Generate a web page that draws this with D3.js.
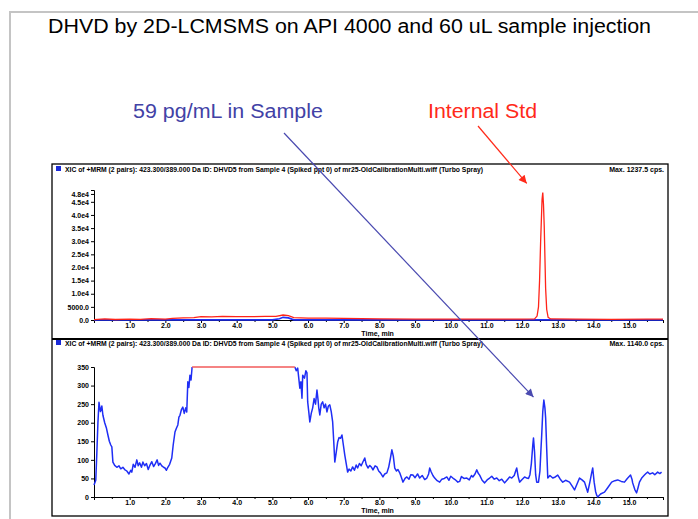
<!DOCTYPE html>
<html>
<head>
<meta charset="utf-8">
<script src="https://cdn.jsdelivr.net/npm/d3@7"></script>
<style>
  body { margin: 0; background: #fff; }
  svg { display: block; }
  .axis text { font-family: "Liberation Sans Narrow", "Liberation Sans", Arial, sans-serif; font-size: 7px; font-weight: bold; fill: #000; }
  .axis path, .axis line { stroke: #000; stroke-width: 1; }
  .hdr { font-family: "Liberation Sans Narrow", "Liberation Sans", Arial, sans-serif; font-size: 7px; font-weight: bold; }
</style>
</head>
<body>
<svg id="slide" width="698" height="519"></svg>
<script>
// ---- data ----
const timeTicks = [1, 2, 3, 4, 5, 6, 7, 8, 9, 10, 11, 12, 13, 14, 15];
const minorTicks = [0.5, 1.5, 2.5, 3.5, 4.5, 5.5, 6.5, 7.5, 8.5, 9.5, 10.5, 11.5, 12.5, 13.5, 14.5, 15.5];
const topYTicks = [0, 5000, 10000, 15000, 20000, 25000, 30000, 35000, 40000, 45000, 48000];
const topYLabels = ["0.0", "5000.0", "1.0e4", "1.5e4", "2.0e4", "2.5e4", "3.0e4", "3.5e4", "4.0e4", "4.5e4", "4.8e4"];
const botYTicks = [0, 50, 100, 150, 200, 250, 300, 350];

// top panel, internal standard (red), [time min, cps]
const internalStd = [
  [0, 150], [0.3, 400], [0.6, 200], [1.0, 350], [1.3, 250], [1.6, 500], [2.0, 300], [2.2, 600],
  [2.5, 800], [2.8, 900], [3.0, 1300], [3.3, 1200], [3.6, 1400], [4.0, 1300], [4.4, 1250],
  [4.8, 1350], [5.1, 1400], [5.3, 1900], [5.45, 1700], [5.6, 900], [6.0, 750], [6.5, 700],
  [7.0, 650], [7.5, 500], [8.0, 400], [9.0, 350], [10.0, 300], [11.0, 350], [12.0, 300],
  [12.35, 400], [12.42, 1500], [12.46, 5000], [12.49, 15000], [12.52, 30000], [12.54, 38000],
  [12.56, 46000], [12.58, 48500], [12.60, 44000], [12.62, 36000], [12.64, 24000], [12.66, 12000],
  [12.69, 4000], [12.73, 1000], [12.8, 400], [13.5, 300], [14.5, 250], [15.5, 350], [15.95, 300]
];
// top panel, analyte (blue)
const analyteTop = [
  [0, 60], [5.0, 60], [5.2, 500], [5.3, 1000], [5.45, 800], [5.6, 60], [15.95, 60]
];
// bottom panel, analyte trace (blue)
const sampleTrace = [
  [0.00, 32], [0.05, 45], [0.08, 120], [0.11, 200], [0.14, 255], [0.18, 230], [0.22, 245], [0.25, 220],
  [0.30, 200], [0.35, 185], [0.39, 167], [0.43, 150], [0.47, 140], [0.50, 135], [0.53, 94], [0.58, 85],
  [0.64, 80], [0.70, 84], [0.75, 76], [0.81, 80], [0.86, 74], [0.92, 70], [0.98, 62], [1.03, 72],
  [1.06, 67], [1.10, 88], [1.15, 80], [1.20, 100], [1.24, 84], [1.28, 92], [1.33, 80], [1.37, 94],
  [1.42, 84], [1.47, 90], [1.52, 74], [1.57, 86], [1.62, 95], [1.67, 82], [1.72, 90], [1.77, 100],
  [1.81, 85], [1.85, 91], [1.90, 84], [1.95, 80], [1.99, 78], [2.03, 72], [2.07, 80], [2.12, 88],
  [2.18, 105], [2.22, 140], [2.27, 175], [2.31, 185], [2.35, 194], [2.38, 215], [2.41, 220], [2.45, 235],
  [2.49, 242], [2.53, 225], [2.57, 240], [2.60, 229], [2.63, 310], [2.66, 295], [2.69, 328], [2.72, 315],
  [2.75, 350], [5.63, 350], [5.67, 340], [5.71, 347], [5.74, 320], [5.77, 293], [5.80, 310], [5.83, 266],
  [5.85, 328], [5.90, 320], [5.94, 340], [5.97, 334], [5.99, 256], [6.02, 230], [6.05, 202], [6.09, 225],
  [6.13, 240], [6.17, 265], [6.21, 250], [6.25, 288], [6.28, 262], [6.30, 240], [6.33, 221], [6.37, 250],
  [6.41, 256], [6.45, 240], [6.49, 250], [6.53, 229], [6.57, 245], [6.61, 248], [6.65, 230], [6.69, 202],
  [6.72, 150], [6.75, 94], [6.79, 120], [6.83, 148], [6.87, 160], [6.91, 158], [6.95, 167], [6.99, 140],
  [7.03, 113], [7.07, 90], [7.11, 67], [7.15, 75], [7.20, 70], [7.25, 81], [7.30, 72], [7.35, 86],
  [7.39, 78], [7.44, 90], [7.49, 84], [7.54, 95], [7.59, 105], [7.63, 88], [7.68, 78], [7.73, 85],
  [7.78, 80], [7.82, 73], [7.88, 84], [7.93, 81], [7.98, 70], [8.03, 65], [8.10, 54], [8.15, 62],
  [8.21, 65], [8.26, 80], [8.31, 105], [8.35, 127], [8.39, 110], [8.43, 78], [8.48, 70], [8.52, 74],
  [8.57, 65], [8.62, 52], [8.66, 40], [8.72, 50], [8.77, 54], [8.83, 48], [8.88, 60], [8.94, 59],
  [9.00, 52], [9.07, 62], [9.13, 51], [9.20, 58], [9.27, 47], [9.33, 51], [9.38, 62], [9.41, 78],
  [9.45, 68], [9.50, 58], [9.55, 51], [9.62, 44], [9.69, 40], [9.75, 48], [9.82, 50], [9.89, 54],
  [9.95, 45], [10.00, 56], [10.06, 51], [10.12, 47], [10.20, 40], [10.25, 42], [10.30, 55], [10.37, 50],
  [10.45, 51], [10.52, 46], [10.58, 58], [10.62, 54], [10.68, 62], [10.73, 73], [10.77, 64], [10.81, 59],
  [10.88, 45], [10.95, 38], [11.02, 46], [11.09, 51], [11.15, 56], [11.22, 48], [11.29, 51], [11.36, 44],
  [11.43, 48], [11.51, 38], [11.58, 46], [11.65, 54], [11.71, 51], [11.78, 58], [11.82, 70], [11.85, 78],
  [11.89, 55], [11.93, 40], [12.00, 47], [12.07, 54], [12.13, 51], [12.18, 50], [12.22, 60], [12.26, 90],
  [12.30, 140], [12.32, 159], [12.35, 120], [12.38, 60], [12.41, 40], [12.46, 40], [12.50, 70], [12.53, 130],
  [12.55, 167], [12.58, 230], [12.61, 261], [12.64, 240], [12.66, 213], [12.69, 130], [12.72, 51], [12.78, 58],
  [12.86, 51], [12.93, 54], [13.00, 59], [13.07, 48], [13.14, 40], [13.22, 45], [13.33, 40], [13.40, 30],
  [13.47, 19], [13.54, 35], [13.61, 51], [13.68, 46], [13.75, 40], [13.80, 25], [13.84, 13], [13.90, 40],
  [13.95, 65], [13.98, 78], [14.02, 40], [14.06, 15], [14.09, 5], [14.12, 0], [14.20, 8], [14.31, 13],
  [14.40, 25], [14.51, 40], [14.60, 44], [14.68, 46], [14.78, 42], [14.87, 40], [14.95, 50], [15.04, 59],
  [15.08, 48], [15.10, 38], [15.16, 20], [15.21, 11], [15.25, 25], [15.29, 40], [15.36, 52], [15.43, 59],
  [15.48, 64], [15.52, 67], [15.58, 62], [15.66, 65], [15.72, 60], [15.80, 67], [15.86, 63], [15.91, 67]
];
// signal over range of bottom panel (drawn at the top in red)
const saturated = [[2.75, 350], [5.63, 350]];

const headerText = "XIC of +MRM (2 pairs): 423.300/389.000 Da ID: DHVD5 from Sample 4 (Spiked ppt 0) of mr25-OldCalibrationMulti.wiff (Turbo Spray)";
const maxTop = "Max. 1237.5 cps.";
const maxBot = "Max. 1140.0 cps.";

const svg = d3.select("#slide");
const BLUE = "#1f2ef5", RED = "#ff2419";
const SANS = "Liberation Sans, Arial, sans-serif";

// slide frame
svg.append("path").attr("d", "M10,519V12H698").attr("fill", "none").attr("stroke", "#c4c4c4").attr("stroke-width", 2);

svg.append("text").text("DHVD by 2D-LCMSMS on API 4000 and 60 uL sample injection")
  .attr("x", 48).attr("y", 33).attr("textLength", 603).attr("lengthAdjust", "spacingAndGlyphs")
  .attr("font-family", SANS).attr("font-size", 20).attr("fill", "#000");

// scales
const x = d3.scaleLinear().domain([0, 15.95]).range([94, 663]);
const yTop = d3.scaleLinear().domain([0, 49500]).range([320, 190]);
const yBot = d3.scaleLinear().domain([0, 350]).range([497, 367]);

// panel boxes
svg.append("rect").attr("x", 52).attr("y", 164).attr("width", 616).attr("height", 352)
  .attr("fill", "none").attr("stroke", "#000").attr("stroke-width", 1.3);
svg.append("line").attr("x1", 52).attr("x2", 668).attr("y1", 339).attr("y2", 339)
  .attr("stroke", "#000").attr("stroke-width", 1.8);

function header(y, maxLabel) {
  svg.append("rect").attr("x", 56).attr("y", y - 6).attr("width", 5).attr("height", 5).attr("fill", "#1a2ad8");
  svg.append("text").attr("class", "hdr").attr("x", 65).attr("y", y).text(headerText)
    .attr("textLength", 418).attr("lengthAdjust", "spacingAndGlyphs");
  svg.append("text").attr("class", "hdr").attr("x", 664).attr("y", y).attr("text-anchor", "end").text(maxLabel);
}
header(172, maxTop);
header(346, maxBot);

function xAxis(yPos) {
  svg.append("g").attr("class", "axis").attr("transform", `translate(0,${yPos})`)
    .call(d3.axisBottom(x).tickValues(minorTicks).tickSize(2).tickFormat(""));
  svg.append("g").attr("class", "axis").attr("transform", `translate(0,${yPos})`)
    .call(d3.axisBottom(x).tickValues(timeTicks).tickSize(3).tickPadding(0).tickFormat(d3.format(".1f")));
  svg.append("text").attr("class", "hdr").attr("x", x(7.95)).attr("y", yPos + 16)
    .attr("text-anchor", "middle").text("Time, min");
}
xAxis(320);
xAxis(497);

svg.append("g").attr("class", "axis").attr("transform", "translate(94,0)")
  .call(d3.axisLeft(yTop).tickValues(topYTicks).tickSize(3).tickPadding(2)
    .tickFormat((d, i) => topYLabels[i]));
svg.append("g").attr("class", "axis").attr("transform", "translate(94,0)")
  .call(d3.axisLeft(yBot).tickValues(botYTicks).tickSize(3).tickPadding(2).tickFormat(d3.format("d")));

const lineTop = d3.line().x(d => x(d[0])).y(d => yTop(d[1]));
const lineBot = d3.line().x(d => x(d[0])).y(d => yBot(d[1]));

svg.append("path").datum(analyteTop).attr("d", lineTop)
  .attr("fill", "none").attr("stroke", BLUE).attr("stroke-width", 1.6);
svg.append("path").datum(internalStd).attr("d", lineTop)
  .attr("fill", "none").attr("stroke", RED).attr("stroke-width", 1.3);

// blue trace in two pieces either side of the off-scale stretch
const satStart = saturated[0][0], satEnd = saturated[1][0];
[sampleTrace.filter(d => d[0] <= satStart), sampleTrace.filter(d => d[0] >= satEnd)].forEach(piece => {
  svg.append("path").datum(piece).attr("d", lineBot)
    .attr("fill", "none").attr("stroke", BLUE).attr("stroke-width", 1.5).attr("stroke-linejoin", "round");
});
svg.append("path").datum(saturated).attr("d", lineBot)
  .attr("fill", "none").attr("stroke", "#f25a5a").attr("stroke-width", 1.3);

// annotations
const defs = svg.append("defs");
function arrowHead(id, color) {
  defs.append("marker").attr("id", id).attr("viewBox", "0 0 10 10")
    .attr("refX", 10).attr("refY", 5).attr("markerWidth", 10).attr("markerHeight", 8)
    .attr("markerUnits", "userSpaceOnUse").attr("orient", "auto")
    .append("path").attr("d", "M0,0L10,5L0,10z").attr("fill", color);
}
arrowHead("ab", "#4a4ab0");
arrowHead("ar", "#ff2a1a");

svg.append("text").text("59 pg/mL in Sample").attr("x", 133).attr("y", 118)
  .attr("textLength", 190).attr("lengthAdjust", "spacingAndGlyphs")
  .attr("font-family", SANS).attr("font-size", 20).attr("fill", "#4242a6");
svg.append("text").text("Internal Std").attr("x", 428).attr("y", 118)
  .attr("textLength", 109).attr("lengthAdjust", "spacingAndGlyphs")
  .attr("font-family", SANS).attr("font-size", 20).attr("fill", "#ff2a1a");

svg.append("line").attr("x1", 284).attr("y1", 133).attr("x2", x(12.32)).attr("y2", yBot(269))
  .attr("stroke", "#4a4ab0").attr("stroke-width", 1.2).attr("marker-end", "url(#ab)");
svg.append("line").attr("x1", 478).attr("y1", 126).attr("x2", x(12.13)).attr("y2", yTop(52000))
  .attr("stroke", "#ff2a1a").attr("stroke-width", 1.2).attr("marker-end", "url(#ar)");
</script>
</body>
</html>
